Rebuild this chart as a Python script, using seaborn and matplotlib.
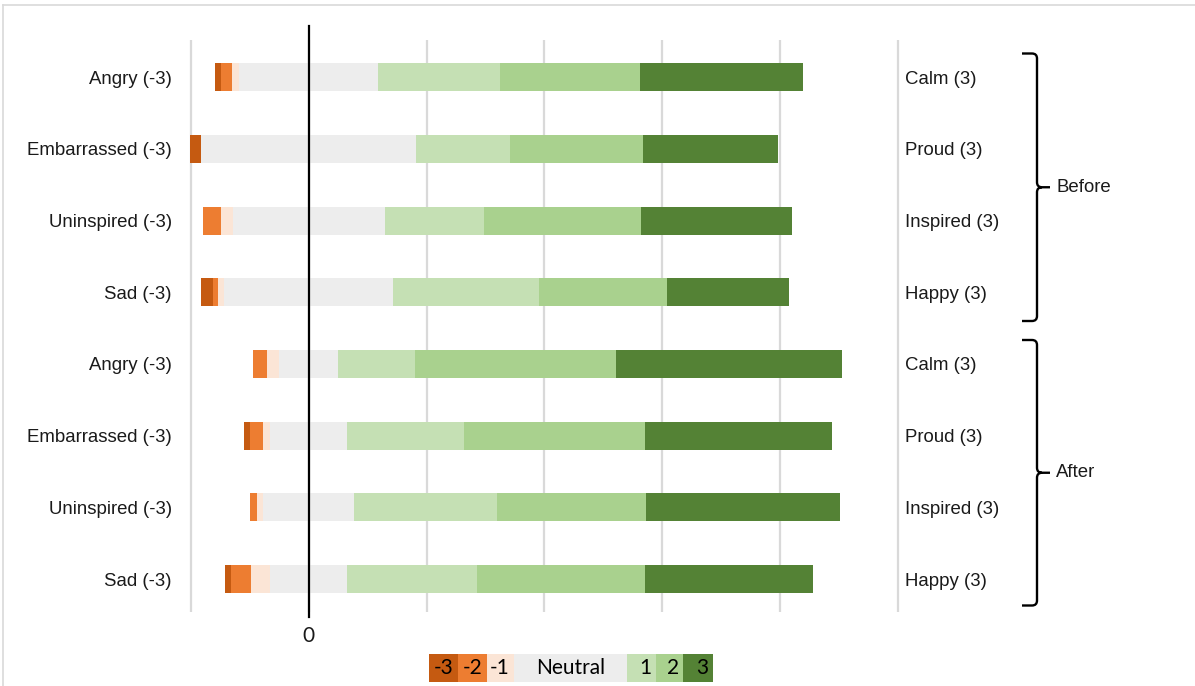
import matplotlib
matplotlib.use("Agg")
import matplotlib.pyplot as plt
import numpy as np
import pandas as pd
import seaborn as sns
from matplotlib.path import Path
from matplotlib.patches import PathPatch, Rectangle
from matplotlib.lines import Line2D

# ---------------- data ----------------
groups = ["Before"] * 4 + ["After"] * 4
neg_labels = ["Angry (-3)", "Embarrassed (-3)", "Uninspired (-3)", "Sad (-3)"] * 2
pos_labels = ["Calm (3)", "Proud (3)", "Inspired (3)", "Happy (3)"] * 2
levels = ["-3", "-2", "-1", "Neutral", "1", "2", "3"]
level_colors = ["#C55A11", "#ED7D31", "#FBE5D6", "#EDEDED", "#C5E0B4", "#A9D18E", "#548235"]

# share of responses (%) at each rating level, rows in display order
share_m3 = [1.0, 1.9, 0.0, 2.0, 0.0, 1.1, 0.0, 1.1]
share_m2 = [1.9, 0.0, 3.0, 0.8, 2.3, 2.2, 1.1, 3.3]
share_m1 = [1.2, 0.0, 2.0, 1.1, 2.2, 1.2, 1.1, 3.3]
share_neutral = [23.6, 36.4, 25.8, 28.6, 9.9, 13.1, 15.4, 13.1]
share_p1 = [20.7, 15.9, 16.8, 24.7, 13.1, 19.8, 24.3, 22.0]
share_p2 = [23.8, 22.7, 26.7, 21.8, 34.1, 30.8, 25.2, 28.6]
share_p3 = [27.5, 22.8, 25.6, 20.7, 38.4, 31.6, 32.9, 28.5]

x_ticks = [-20, 0, 20, 40, 60, 80, 100]

# ---------------- figure ----------------
W, H = 1195, 686
plt.rcParams["font.family"] = ["Liberation Sans", "DejaVu Sans"]
TEXT = "#1a1a1a"

fig = plt.figure(figsize=(W / 100, H / 100), dpi=100)


def fx(px):
    return px / W


def fy(py):
    return 1 - py / H


ax_left, ax_right, ax_top, ax_bot = 189.0, 899.8, 40.0, 612.0
ax = fig.add_axes([fx(ax_left), fy(ax_bot), fx(ax_right - ax_left), (ax_bot - ax_top) / H])

rows = [f"{g}: {n}" for g, n in zip(groups, neg_labels)]
df = pd.DataFrame({
    "row": rows,
    "m3": share_m3, "m2": share_m2, "m1": share_m1, "neutral": share_neutral,
    "p1": share_p1, "p2": share_p2, "p3": share_p3,
})
half = df["neutral"] / 2
# diverging stack: neutral split around zero, overlaid cumulative bars
df["pos3"] = half + df["p1"] + df["p2"] + df["p3"]
df["pos2"] = half + df["p1"] + df["p2"]
df["pos1"] = half + df["p1"]
df["posn"] = half
df["neg3"] = -(half + df["m1"] + df["m2"] + df["m3"])
df["neg2"] = -(half + df["m1"] + df["m2"])
df["neg1"] = -(half + df["m1"])
df["negn"] = -half

layers = [
    ("pos3", level_colors[6]), ("pos2", level_colors[5]), ("pos1", level_colors[4]),
    ("posn", level_colors[3]),
    ("neg3", level_colors[0]), ("neg2", level_colors[1]), ("neg1", level_colors[2]),
    ("negn", level_colors[3]),
]
for col, color in layers:
    sns.barplot(data=df, x=col, y="row", order=rows, orient="y", color=color,
                saturation=1, width=0.39, errorbar=None, linewidth=0, ax=ax, zorder=2)

ax.set_xlim(-20.3, 100.3)
ax.set_ylim(7.46, -0.52)
ax.set_xlabel("")
ax.set_ylabel("")
ax.set_xticks(x_ticks)
ax.set_xticklabels(["0" if t == 0 else "" for t in x_ticks], fontsize=15,
                   family=["Lato", "DejaVu Sans"], color=TEXT)
ax.xaxis.grid(True, color="#D9D9D9", linewidth=1.6)
ax.yaxis.grid(False)
ax.set_axisbelow(True)
ax.tick_params(axis="x", length=0, pad=10)
ax.set_yticks(range(len(rows)))
ax.set_yticklabels(neg_labels, fontsize=13.4, color=TEXT)
ax.tick_params(axis="y", length=0, pad=12.5)
for s in ax.spines.values():
    s.set_visible(False)
ax.set_facecolor("none")

# zero reference line
ax.axvline(0, ymin=-0.008, ymax=1.025, color="black", linewidth=1.6, clip_on=False, zorder=6)

# right-hand labels
ax2 = ax.twinx()
ax2.set_ylim(ax.get_ylim())
ax2.set_yticks(range(len(rows)))
ax2.set_yticklabels(pos_labels, fontsize=13.4, color=TEXT)
ax2.tick_params(axis="y", length=0, pad=4)
for s in ax2.spines.values():
    s.set_visible(False)


# group brackets
def bracket(y_top, y_bot, x_line=1037, x_hook=1022, x_tip=1050, r=5):
    y_mid = (y_top + y_bot) / 2
    pts = [
        (x_hook, y_top), (x_line - r, y_top), (x_line, y_top), (x_line, y_top + r),
        (x_line, y_mid - r), (x_line, y_mid), (x_line + r, y_mid),
        (x_tip, y_mid),
        (x_line + r, y_mid), (x_line, y_mid), (x_line, y_mid + r),
        (x_line, y_bot - r), (x_line, y_bot), (x_line - r, y_bot), (x_hook, y_bot),
    ]
    codes = [Path.MOVETO, Path.LINETO, Path.CURVE3, Path.CURVE3,
             Path.LINETO, Path.CURVE3, Path.CURVE3,
             Path.LINETO,
             Path.MOVETO, Path.CURVE3, Path.CURVE3,
             Path.LINETO, Path.CURVE3, Path.CURVE3, Path.LINETO]
    verts = [(fx(x), fy(y)) for x, y in pts]
    fig.add_artist(PathPatch(Path(verts, codes), transform=fig.transFigure,
                             facecolor="none", edgecolor="black", linewidth=1.7,
                             capstyle="butt", joinstyle="round"))
    return y_mid


for g, (yt, yb) in zip(["Before", "After"], [(53.5, 321), (340, 605.5)]):
    ym = bracket(yt, yb)
    fig.text(fx(1056), fy(ym), g, fontsize=13.4, color=TEXT, ha="left", va="center")

# legend strip
leg_widths = [29, 28.4, 27.6, 113, 28.4, 27.6, 29.4]
leg_x0, leg_top, leg_bot = 429.3, 654.3, 682.3
x = leg_x0
for lab, color, w in zip(levels, level_colors, leg_widths):
    fig.add_artist(Rectangle((fx(x), fy(leg_bot)), fx(w), (leg_bot - leg_top) / H,
                             transform=fig.transFigure, facecolor=color, edgecolor="none"))
    if lab == "Neutral":
        fig.text(fx(x + w / 2), fy((leg_top + leg_bot) / 2), lab, fontsize=15,
                 family=["Lato", "DejaVu Sans"], color="black", ha="center", va="center")
    else:
        fig.text(fx(x + w - 4.5), fy((leg_top + leg_bot) / 2), lab, fontsize=15,
                 family=["Lato", "DejaVu Sans"], color="black", ha="right", va="center")
    x += w

# outer frame (top and left edges)
fig.add_artist(Line2D([fx(3), fx(3)], [fy(5), 0], transform=fig.transFigure,
                      color="#D9D9D9", linewidth=1.2))
fig.add_artist(Line2D([fx(3), 1], [fy(5), fy(5)], transform=fig.transFigure,
                      color="#D9D9D9", linewidth=1.2))

fig.savefig("out.png", dpi=100)
